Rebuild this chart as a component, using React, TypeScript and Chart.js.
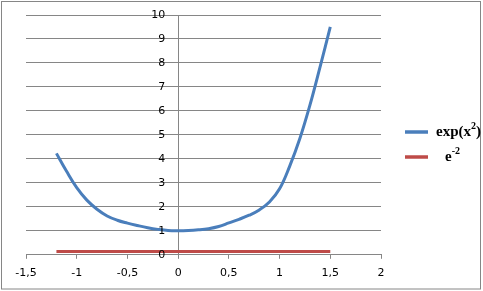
import React, { useEffect, useRef } from 'react';
import { Chart, registerables } from 'chart.js';

Chart.register(...registerables);

// x positions of the exp(x^2) series
const curveX = [-1.2, -1.1, -1.0, -0.9, -0.8, -0.7, -0.6, -0.5, -0.4, -0.3, -0.2, -0.1, 0, 0.1, 0.2, 0.3, 0.4, 0.5, 0.6, 0.7, 0.8, 0.9, 1.0, 1.1, 1.2, 1.3, 1.4, 1.5];
// y values
const curveY = [4.23, 3.48, 2.8, 2.28, 1.9, 1.62, 1.44, 1.32, 1.22, 1.13, 1.06, 1.01, 1.0, 1.01, 1.04, 1.09, 1.18, 1.33, 1.48, 1.65, 1.87, 2.2, 2.75, 3.7, 4.85, 6.25, 7.85, 9.5];
// constant e^-2 series
const constX = [-1.2, 1.5];
const constY = [0.135, 0.135];

const xTickValues = [-1.5, -1, -0.5, 0, 0.5, 1, 1.5, 2];
const xTickLabels = ['-1,5', '-1', '-0,5', '0', '0,5', '1', '1,5', '2'];
const yTickValues = [0, 1, 2, 3, 4, 5, 6, 7, 8, 9, 10];
const yTickLabels = ['0', '1', '2', '3', '4', '5', '6', '7', '8', '9', '10'];

const legendBase = ['exp(x', 'e'];
const legendSup = ['2', '-2'];
const legendTail = [')', ''];
const seriesColors = ['#4A7EBB', '#BE4B48'];

const GRID = '#868686';
const TICK_FONT = '11px "DejaVu Sans"';

export default function App() {
  const ref = useRef<HTMLCanvasElement | null>(null);

  useEffect(() => {
    const canvas = ref.current;
    if (!canvas) return;

    const extras = {
      id: 'extras',
      afterDraw(chart: any) {
        const ctx = chart.ctx as CanvasRenderingContext2D;
        ctx.save();
        // y tick labels, left of the axis that crosses at x = 0
        const xs = chart.scales.x;
        const ys = chart.scales.y;
        const axisX = xs.getPixelForValue(0);
        ctx.font = TICK_FONT;
        ctx.fillStyle = '#000';
        ctx.textAlign = 'right';
        ctx.textBaseline = 'middle';
        yTickValues.forEach((v, i) => {
          ctx.fillText(yTickLabels[i], axisX - 13, ys.getPixelForValue(v));
        });
        // outer border
        ctx.strokeStyle = GRID;
        ctx.lineWidth = 1;
        ctx.strokeRect(1.5, 1.5, 479, 287.5);
        // legend
        const rows = [132, 157];
        const textX = [436, 445];
        for (let i = 0; i < legendBase.length; i++) {
          const y = rows[i];
          ctx.strokeStyle = seriesColors[i];
          ctx.lineWidth = 3.5;
          ctx.beginPath();
          ctx.moveTo(405, y);
          ctx.lineTo(428, y);
          ctx.stroke();
          ctx.fillStyle = '#000';
          ctx.textBaseline = 'alphabetic';
          ctx.textAlign = 'left';
          ctx.font = 'bold 15px "Liberation Serif"';
          let x = textX[i];
          const base = y + 4;
          ctx.fillText(legendBase[i], x, base);
          x += ctx.measureText(legendBase[i]).width;
          ctx.font = 'bold 10px "Liberation Serif"';
          ctx.fillText(legendSup[i], x, base - 7);
          x += ctx.measureText(legendSup[i]).width;
          if (legendTail[i]) {
            ctx.font = 'bold 15px "Liberation Serif"';
            ctx.fillText(legendTail[i], x, base);
          }
        }
        ctx.restore();
      },
    };

    const chart = new Chart(canvas, {
      type: 'line',
      data: {
        datasets: [
          {
            label: legendBase[0] + legendSup[0] + legendTail[0],
            data: curveX.map((x, i) => ({ x, y: curveY[i] })),
            borderColor: seriesColors[0],
            borderWidth: 3,
            pointRadius: 0,
            tension: 0.4,
            fill: false,
          },
          {
            label: legendBase[1] + legendSup[1],
            data: constX.map((x, i) => ({ x, y: constY[i] })),
            borderColor: seriesColors[1],
            borderWidth: 3,
            pointRadius: 0,
            tension: 0,
            fill: false,
          },
        ],
      },
      options: {
        responsive: false,
        animation: false,
        events: [],
        layout: { padding: { left: 26, right: 102, top: 15, bottom: 3 } },
        plugins: {
          legend: { display: false },
          tooltip: { enabled: false },
          title: { display: false },
        },
        scales: {
          x: {
            type: 'linear',
            min: -1.5,
            max: 2,
            afterBuildTicks: (scale: any) => {
              scale.ticks = xTickValues.map((v) => ({ value: v }));
            },
            ticks: {
              autoSkip: false,
              maxRotation: 0,
              padding: 8,
              color: '#000',
              font: { family: '"DejaVu Sans"', size: 11 },
              callback: (v: any) => {
                const i = xTickValues.indexOf(Number(v));
                return i >= 0 ? xTickLabels[i] : '';
              },
            },
            grid: { drawOnChartArea: false, drawTicks: true, tickLength: 4, color: GRID },
            border: { display: true, color: GRID },
          },
          y: {
            type: 'linear',
            position: { x: 0 } as any,
            min: 0,
            max: 10,
            afterBuildTicks: (scale: any) => {
              scale.ticks = yTickValues.map((v) => ({ value: v }));
            },
            ticks: { display: false },
            grid: { color: GRID, drawTicks: false },
            border: { display: true, color: GRID },
          },
        },
      },
      plugins: [extras],
    } as any);

    return () => chart.destroy();
  }, []);

  return (
    <div style={{ position: 'absolute', left: 0, top: 0, width: 483, height: 291, background: '#fff' }}>
      <canvas ref={ref} width={483} height={291} style={{ display: 'block', width: 483, height: 291 }} />
    </div>
  );
}
